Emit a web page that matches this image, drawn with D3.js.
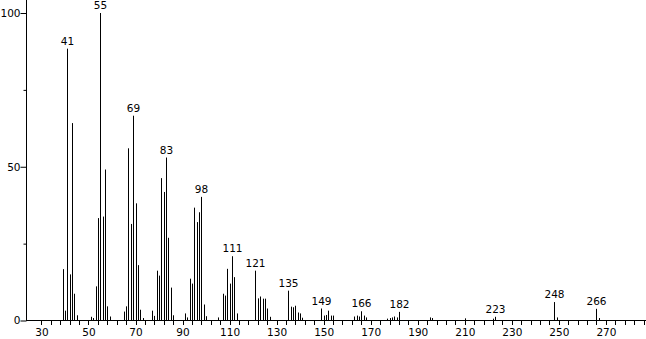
<!DOCTYPE html>
<html>
<head>
<meta charset="utf-8">
<script src="https://cdn.jsdelivr.net/npm/d3@7"></script>
<style>
  body { margin: 0; background: #fff; }
  text { font-family: "DejaVu Sans", sans-serif; font-size: 10.5px; fill: #000; }
</style>
</head>
<body>
<svg id="chart"></svg>
<script>
// m/z values and relative intensities
var mz = [39, 40, 41, 42, 43, 44, 45, 51, 52, 53, 54, 55, 56, 57, 58, 59,
  65, 66, 67, 68, 69, 70, 71, 72, 73, 77, 78, 79, 80, 81, 82, 83, 84, 85, 86,
  91, 92, 93, 94, 95, 96, 97, 98, 99, 100, 105, 107, 108, 109, 110, 111, 112, 113,
  121, 122, 123, 124, 125, 126, 127, 135, 136, 137, 138, 139, 140, 141,
  149, 150, 151, 152, 153, 154, 163, 164, 165, 166, 167, 168,
  177, 178, 179, 180, 181, 182, 195, 196, 210, 222, 223, 248, 249, 266, 267];
var intensity = [16.7, 3.2, 88.4, 15, 64.2, 8.7, 1.7, 1.2, 0.8, 11.1, 33.3, 100, 33.8, 49.1, 4.6, 1.3,
  2.9, 4.6, 56, 31.4, 66.6, 38.1, 18, 3.5, 0.8, 3.2, 1.5, 16.2, 14.6, 46.3, 41.8, 53, 26.9, 10.7, 1.7,
  2.3, 1, 13.6, 12, 36.7, 32, 35.2, 40.2, 5.2, 1.4, 1, 8.7, 8.1, 16.8, 12, 20.9, 14.1, 2.3,
  16.2, 7.2, 7.8, 7.1, 7.1, 3.9, 1.2, 9.7, 4.5, 4.3, 4.8, 2.6, 2.3, 0.9,
  3.9, 1.6, 1.8, 3.2, 1.6, 1.6, 1.3, 1.6, 1.3, 3, 1.6, 1,
  0.6, 0.8, 1, 1.3, 1, 2.8, 1, 0.8, 0.7, 0.6, 1.2, 6, 1, 3.8, 0.8];
var labelled = [41, 55, 69, 83, 98, 111, 121, 135, 149, 166, 182, 223, 248, 266];
var xTickLabels = [30, 50, 70, 90, 110, 130, 150, 170, 190, 210, 230, 250, 270];
var yTickLabels = [0, 50, 100];

var width = 646, height = 339;

var svg = d3.select("#chart")
  .attr("width", width)
  .attr("height", height);

var x = d3.scaleLinear().domain([23.44, 287.05]).range([26, 646]);
var y = d3.scaleLinear().domain([0, 100]).range([320.5, 13]);

var peaks = mz.map(function(m, i) { return {mz: m, v: intensity[i]}; });

function px(m) { return Math.round(x(m)) + 0.5; }

// x axis with minor ticks every 4
var xAxis = d3.axisBottom(x)
  .tickValues(d3.range(30, 287, 4))
  .tickSize(4)
  .tickFormat(function(d) { return xTickLabels.indexOf(d) >= 0 ? d : ""; });

var gx = svg.append("g")
  .attr("transform", "translate(0,320.5)")
  .call(xAxis);
gx.select(".domain").remove();
gx.selectAll("line").attr("stroke", "#000").attr("shape-rendering", "crispEdges");
gx.selectAll("text").attr("y", 8).attr("dy", "0.71em").attr("font-size", null).attr("font-family", null);
gx.attr("font-size", null).attr("font-family", null);

svg.append("line")
  .attr("x1", 26).attr("x2", 646)
  .attr("y1", 320.5).attr("y2", 320.5)
  .attr("stroke", "#000");

// y axis
var yAxis = d3.axisLeft(y)
  .tickValues([0, 25, 50, 75, 100])
  .tickSize(0)
  .tickPadding(6)
  .tickFormat(function(d) { return yTickLabels.indexOf(d) >= 0 ? d : ""; });

var gy = svg.append("g")
  .attr("transform", "translate(26.5,0)")
  .call(yAxis);
gy.select(".domain").remove();
gy.attr("font-size", null).attr("font-family", null);
gy.selectAll(".tick").append("line")
  .attr("x1", function(d) { return yTickLabels.indexOf(d) >= 0 ? -6 : -3; })
  .attr("x2", 0)
  .attr("stroke", "#000");

svg.append("line")
  .attr("x1", 26.5).attr("x2", 26.5)
  .attr("y1", 0).attr("y2", 321)
  .attr("stroke", "#000");

// peaks
svg.selectAll(".peak")
  .data(peaks)
  .enter().append("line")
  .attr("class", "peak")
  .attr("x1", function(d) { return px(d.mz); })
  .attr("x2", function(d) { return px(d.mz); })
  .attr("y1", y(0))
  .attr("y2", function(d) { return y(d.v); })
  .attr("stroke", "#000");

// peak labels
svg.selectAll(".lbl")
  .data(peaks.filter(function(d) { return labelled.indexOf(d.mz) >= 0; }))
  .enter().append("text")
  .attr("class", "lbl")
  .attr("x", function(d) { return px(d.mz); })
  .attr("y", function(d) { return y(d.v) - 4; })
  .attr("text-anchor", "middle")
  .text(function(d) { return d.mz; });
</script>
</body>
</html>
